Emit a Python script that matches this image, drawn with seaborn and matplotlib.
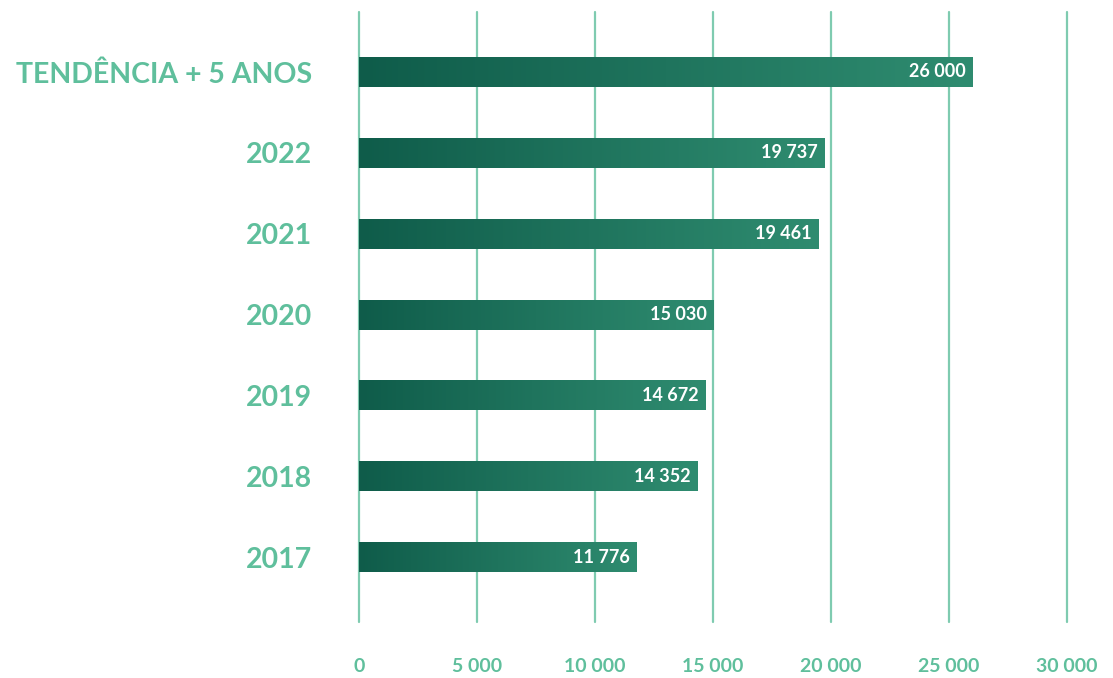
import numpy as np
import pandas as pd
import matplotlib
matplotlib.use("Agg")
import matplotlib.pyplot as plt
import seaborn as sns
from matplotlib.colors import LinearSegmentedColormap

categories = ["TENDÊNCIA + 5 ANOS", "2022", "2021", "2020", "2019", "2018", "2017"]
values = [26000, 19737, 19461, 15030, 14672, 14352, 11776]
value_labels = ["26 000", "19 737", "19 461", "15 030", "14 672", "14 352", "11 776"]
xticks = [0, 5000, 10000, 15000, 20000, 25000, 30000]
xtick_labels = ["0", "5 000", "10 000", "15 000", "20 000", "25 000", "30 000"]

sns.set_theme(style="white")
plt.rcParams['font.family'] = ['Lato', 'DejaVu Sans']

label_color = "#5fbf9c"
grid_color = "#7fcbb0"

df = pd.DataFrame({"cat": categories, "val": values})

fig = plt.figure(figsize=(11.13, 6.78), dpi=100)
ax = fig.add_axes([359/1113, (678-622)/678, 708/1113, 610/678])

sns.barplot(data=df, x="val", y="cat", orient="h", color="#1a6e57",
            width=0.37, ax=ax, zorder=3)

cmap = LinearSegmentedColormap.from_list("g", ["#0f5c4a", "#2f8c70"])
grad = np.linspace(0, 1, 256).reshape(1, -1)
for p, lab in zip(ax.patches, value_labels):
    x0, y0 = p.get_x(), p.get_y()
    w, h = p.get_width(), p.get_height()
    ax.imshow(grad, cmap=cmap, aspect="auto", extent=[x0, x0 + w, y0 + h, y0],
              zorder=4, interpolation="bicubic")
    p.set_alpha(0)
    ax.text(x0 + w - 280, y0 + h / 2, lab, color="white", ha="right", va="center",
            fontsize=13, fontweight="bold", zorder=5)
ax.set_xlim(0, 30000)
ax.set_ylim(6.8, -0.74)

for xt in xticks:
    ax.axvline(xt, color=grid_color, lw=1.6, zorder=1, clip_on=False)

ax.set_xticks(xticks)
ax.set_xticklabels(xtick_labels, color=label_color, fontsize=14, fontweight="bold")
ax.tick_params(axis="x", length=0, pad=26)
ax.tick_params(axis="y", length=0, pad=34)
for t in ax.get_yticklabels():
    t.set_color(label_color)
    t.set_fontsize(20.5)
    t.set_fontweight("bold")
ax.set_xlabel("")
ax.set_ylabel("")
for s in ax.spines.values():
    s.set_visible(False)

fig.savefig("out.png", dpi=100)
